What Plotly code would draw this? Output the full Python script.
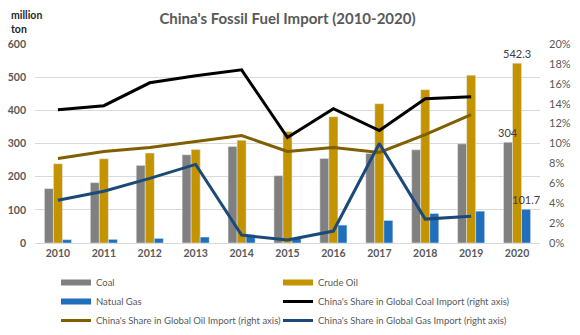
import plotly.graph_objects as go

years = ["2010", "2011", "2012", "2013", "2014", "2015", "2016", "2017", "2018", "2019", "2020"]

# Import volumes, million tons
coal = [164, 182, 234, 266, 291, 203, 255, 270, 281, 299, 304]
crude_oil = [239, 254, 271, 282, 310, 336, 381, 420, 462, 506, 542.3]
natural_gas = [10, 11, 14, 18, 20, 15, 54, 68, 89, 96, 101.7]

# China's share in global imports (right axis), fractions
coal_share = [0.134, 0.138, 0.161, 0.168, 0.174, 0.106, 0.135, 0.113, 0.145, 0.147, None]
oil_share = [0.085, 0.092, 0.096, 0.102, 0.108, 0.092, 0.096, 0.091, 0.109, 0.129, None]
gas_share = [0.043, 0.052, 0.065, 0.079, 0.008, 0.003, 0.012, 0.100, 0.024, 0.027, None]

C_COAL = "#808080"
C_OIL = "#c49300"
C_GAS = "#1f6fbd"
C_COAL_SH = "#000000"
C_OIL_SH = "#7f5f00"
C_GAS_SH = "#1b4a78"
TXT = "#595959"
FONT = "Lato"

fig = go.Figure()

bar_specs = [
    ("Coal", coal, C_COAL),
    ("Crude Oil", crude_oil, C_OIL),
    ("Natual Gas", natural_gas, C_GAS),
]
for name, vals, color in bar_specs:
    fig.add_trace(go.Bar(
        x=years, y=vals, name=name, marker_color=color, showlegend=False,
        hoverinfo="x+y",
    ))

line_specs = [
    ("China's Share in Global Coal Import (right axis)", coal_share, C_COAL_SH),
    ("China's Share in Global Oil Import (right axis)", oil_share, C_OIL_SH),
    ("China's Share in Global Gas Import (right axis)", gas_share, C_GAS_SH),
]
for name, vals, color in line_specs:
    fig.add_trace(go.Scatter(
        x=years, y=vals, name=name, yaxis="y2", mode="lines",
        line=dict(color=color, width=3), showlegend=False,
    ))

# Legend entries, laid out as two columns
legend_entries = [
    ("Coal", C_COAL, 6, "legend"),
    ("Natual Gas", C_GAS, 6, "legend"),
    (line_specs[1][0], C_OIL_SH, 3, "legend"),
    ("Crude Oil", C_OIL, 6, "legend2"),
    (line_specs[0][0], C_COAL_SH, 3, "legend2"),
    (line_specs[2][0], C_GAS_SH, 3, "legend2"),
]
for name, color, w, lg in legend_entries:
    fig.add_trace(go.Scatter(
        x=[None], y=[None], name=name, mode="lines",
        line=dict(color=color, width=w), legend=lg, hoverinfo="skip",
    ))

W, H = 580, 335
ML, MR, MT, MB = 35, 40, 44, 92
PW = W - ML - MR
PH = H - MT - MB


def px_x(x):
    return (x - ML) / PW


def px_y(y):
    return (H - MB - y) / PH


# Value labels on the 2020 bars, one per bar slot in the group
BARGAP = 0.41
bar_w = PW / len(years) * (1 - BARGAP) / 3
last = len(years) - 1
labels = []
for i, (name, vals, color) in enumerate(bar_specs):
    labels.append(dict(
        x=last, y=vals[-1], xref="x", yref="y", text=f"{vals[-1]:g}",
        xshift=(i - 1) * bar_w, yshift=10, yanchor="middle", showarrow=False,
        font=dict(size=11, color="#404040", family=FONT),
    ))

legend_style = dict(
    orientation="v", xanchor="left", yanchor="top",
    font=dict(size=9.5, color=TXT, family=FONT),
    bgcolor="rgba(0,0,0,0)", tracegroupgap=0, itemwidth=30,
)

fig.update_layout(
    width=W, height=H,
    margin=dict(l=ML, r=MR, t=MT, b=MB, pad=0, autoexpand=False),
    paper_bgcolor="white", plot_bgcolor="white",
    font=dict(family=FONT, color=TXT),
    title=dict(
        text="<b>China's Fossil Fuel Import (2010-2020)</b>",
        x=0.5, xref="paper", y=1 - 19 / H, yanchor="middle",
        font=dict(size=15, color=TXT, family=FONT),
    ),
    barmode="group", bargap=BARGAP, bargroupgap=0,
    xaxis=dict(
        type="category", showgrid=False, ticks="",
        range=[-0.5, last + 0.5],
        showline=True, linecolor="#d9d9d9", linewidth=1,
        tickfont=dict(size=10.5, color=TXT, family=FONT, weight="bold"),
    ),
    yaxis=dict(
        range=[0, 600], dtick=100, showgrid=True, gridcolor="#d9d9d9",
        gridwidth=1, zeroline=False, ticks="", showline=False,
        ticklabelstandoff=8,
        tickfont=dict(size=10.5, color=TXT, family=FONT, weight="bold"),
    ),
    yaxis2=dict(
        range=[0, 0.2], dtick=0.02, tickformat=".0%", overlaying="y",
        side="right", showgrid=False, zeroline=False, ticks="",
        ticklabelstandoff=8,
        tickfont=dict(size=11, color=TXT, family=FONT),
    ),
    legend=dict(x=px_x(56), y=px_y(268), **legend_style),
    legend2=dict(x=px_x(278), y=px_y(268), **legend_style),
    annotations=labels + [dict(
        text="<b>million<br>ton</b>", xref="paper", yref="paper",
        x=px_x(9), y=px_y(7), xanchor="left", yanchor="top", align="left",
        showarrow=False, font=dict(size=10.5, color="#262626", family=FONT),
    )],
)

fig.write_html("out.html")
